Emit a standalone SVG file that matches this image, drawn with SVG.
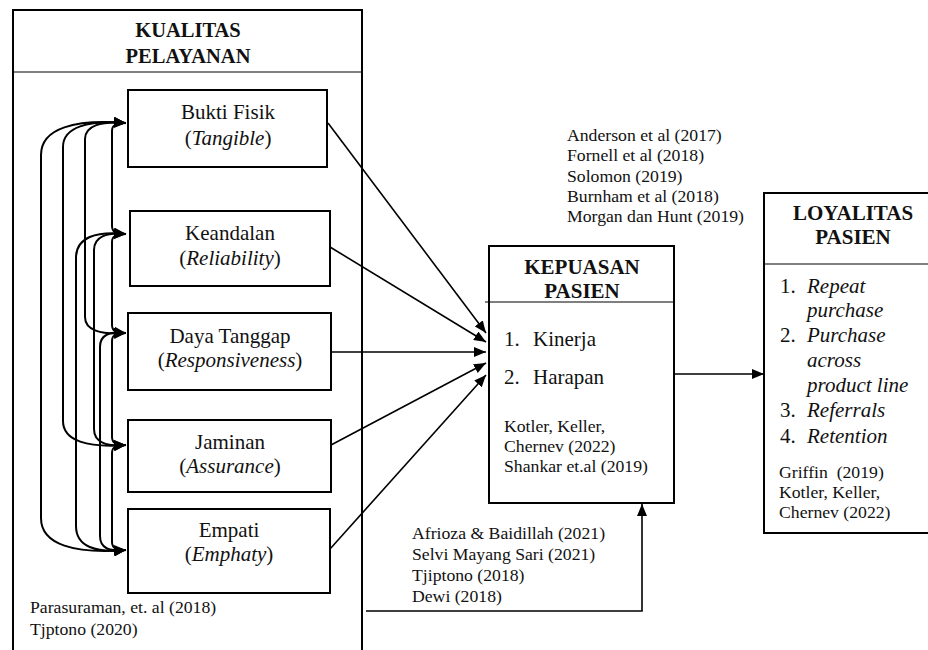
<svg xmlns="http://www.w3.org/2000/svg" width="928" height="650" viewBox="0 0 928 650">
<style>
.box{fill:#fff;stroke:#000;stroke-width:2}
.frame{fill:none;stroke:#000;stroke-width:2}
.div{stroke:#000;stroke-width:1.2}
.t{font-family:"Liberation Serif","Times New Roman",serif;fill:#111}
.lbl{font-size:21px;text-anchor:middle}
.hd{font-size:20.5px;font-weight:bold;text-anchor:middle}
.cit{font-size:17.7px}
.li{font-size:21px}
.it{font-style:italic}
.con{fill:none;stroke:#000;stroke-width:1.6}
.bi{fill:none;stroke:#000;stroke-width:2}
</style>
<defs>
<marker id="ah" viewBox="0 0 12 10" refX="12" refY="5" markerWidth="12" markerHeight="10" markerUnits="userSpaceOnUse" orient="auto-start-reverse">
<path d="M0,0 L12,5 L0,10 z" fill="#000"/>
</marker>
</defs>
<rect width="928" height="650" fill="#fff"/>

<g id="kualitas">
<rect class="frame" x="13" y="10" width="349" height="670"/>
<line class="div" x1="13" y1="72" x2="362" y2="72"/>
<text class="t hd" x="188" y="37">KUALITAS</text>
<text class="t hd" x="188" y="63">PELAYANAN</text>
<text class="t cit" x="30" y="613">Parasuraman, et. al (2018)</text>
<text class="t cit" x="30" y="635">Tjptono (2020)</text>
</g>

<g id="bukti">
<rect class="box" x="128" y="90" width="199" height="77"/>
<text class="t lbl" x="228" y="119">Bukti Fisik</text>
<text class="t lbl" x="228" y="145">(<tspan class="it">Tangible</tspan>)</text>
</g>
<g id="keandalan">
<rect class="box" x="130" y="211" width="200" height="75"/>
<text class="t lbl" x="230" y="240">Keandalan</text>
<text class="t lbl" x="230" y="265">(<tspan class="it">Reliability</tspan>)</text>
</g>
<g id="daya">
<rect class="box" x="128" y="313" width="203" height="77"/>
<text class="t lbl" x="230" y="343">Daya Tanggap</text>
<text class="t lbl" x="230" y="367">(<tspan class="it">Responsiveness</tspan>)</text>
</g>
<g id="jaminan">
<rect class="box" x="128" y="420" width="203" height="72"/>
<text class="t lbl" x="230" y="449">Jaminan</text>
<text class="t lbl" x="230" y="473">(<tspan class="it">Assurance</tspan>)</text>
</g>
<g id="empati">
<rect class="box" x="128" y="509" width="202" height="84"/>
<text class="t lbl" x="229" y="537">Empati</text>
<text class="t lbl" x="229" y="561">(<tspan class="it">Emphaty</tspan>)</text>
</g>

<g id="kepuasan">
<rect class="box" x="489" y="246" width="185" height="257"/>
<line class="div" x1="485" y1="302" x2="674" y2="302"/>
<text class="t hd" x="582" y="274" style="font-size:21px">KEPUASAN</text>
<text class="t hd" x="582" y="298" style="font-size:21px">PASIEN</text>
<text class="t li" x="504" y="346">1.<tspan x="533">Kinerja</tspan></text>
<text class="t li" x="504" y="384">2.<tspan x="533">Harapan</tspan></text>
<text class="t cit" x="504" y="432">Kotler, Keller,</text>
<text class="t cit" x="504" y="452">Chernev (2022)</text>
<text class="t cit" x="504" y="472">Shankar et.al (2019)</text>
</g>

<g id="loyalitas">
<rect class="box" x="764" y="193" width="180" height="340"/>
<line class="div" x1="764" y1="264" x2="944" y2="264"/>
<text class="t hd" x="853" y="220" style="font-size:21px">LOYALITAS</text>
<text class="t hd" x="853" y="244" style="font-size:21px">PASIEN</text>
<text class="t li" x="780" y="293">1.<tspan x="807" class="it">Repeat</tspan></text>
<text class="t li it" x="807" y="317">purchase</text>
<text class="t li" x="780" y="342">2.<tspan x="807" class="it">Purchase</tspan></text>
<text class="t li it" x="807" y="367">across</text>
<text class="t li it" x="807" y="392">product line</text>
<text class="t li" x="780" y="417">3.<tspan x="807" class="it">Referrals</tspan></text>
<text class="t li" x="780" y="443">4.<tspan x="807" class="it">Retention</tspan></text>
<text class="t cit" x="779" y="478" xml:space="preserve">Griffin  (2019)</text>
<text class="t cit" x="779" y="498">Kotler, Keller,</text>
<text class="t cit" x="779" y="518">Chernev (2022)</text>
</g>

<g id="cit-kepuasan">
<text class="t cit" x="567" y="141">Anderson et al (2017)</text>
<text class="t cit" x="567" y="161">Fornell et al (2018)</text>
<text class="t cit" x="567" y="182">Solomon (2019)</text>
<text class="t cit" x="567" y="202">Burnham et al (2018)</text>
<text class="t cit" x="567" y="222">Morgan dan Hunt (2019)</text>
</g>

<g id="cit-bottom">
<text class="t cit" x="412" y="539">Afrioza &amp; Baidillah (2021)</text>
<text class="t cit" x="412" y="560">Selvi Mayang Sari (2021)</text>
<text class="t cit" x="412" y="581">Tjiptono (2018)</text>
<text class="t cit" x="412" y="602">Dewi (2018)</text>
</g>

<g id="connectors">
<line class="con" x1="328" y1="123" x2="486" y2="333" marker-end="url(#ah)"/>
<line class="con" x1="330" y1="247" x2="486" y2="342" marker-end="url(#ah)"/>
<line class="con" x1="331" y1="352" x2="486" y2="352" marker-end="url(#ah)"/>
<line class="con" x1="331" y1="445" x2="486" y2="363" marker-end="url(#ah)"/>
<line class="con" x1="330" y1="549" x2="486" y2="375" marker-end="url(#ah)"/>
<line class="con" x1="675" y1="374" x2="764" y2="374" marker-end="url(#ah)"/>
<path class="con" d="M366,611 L642,611 L642,504" marker-end="url(#ah)"/>

<path class="bi" d="M126,123 C75,119 41,128 41,155 L41,518 C41,545 75,554 126,550" marker-start="url(#ah)" marker-end="url(#ah)"/>
<path class="bi" d="M126,123 C88,120 63,127 63,147 L63,421 C63,441 88,448 126,445" marker-start="url(#ah)" marker-end="url(#ah)"/>
<path class="bi" d="M126,123 C100,121 85,126 85,139 L85,317 C85,330 100,335 126,333" marker-start="url(#ah)" marker-end="url(#ah)"/>
<path class="bi" d="M126,123 C116,123 112,125 112,131 L112,226 C112,232 116,234 126,234" marker-start="url(#ah)" marker-end="url(#ah)"/>
<path class="bi" d="M126,234 C96,231 76,237 76,258 L76,526 C76,547 96,553 126,550" marker-start="url(#ah)" marker-end="url(#ah)"/>
<path class="bi" d="M126,234 C106,232 94,237 94,250 L94,429 C94,442 106,447 126,445" marker-start="url(#ah)" marker-end="url(#ah)"/>
<path class="bi" d="M126,234 C116,234 112,236 112,242 L112,325 C112,331 116,333 126,333" marker-start="url(#ah)" marker-end="url(#ah)"/>
<path class="bi" d="M126,333 C109,331 100,335 100,347 L100,536 C100,548 109,552 126,550" marker-start="url(#ah)" marker-end="url(#ah)"/>
<path class="bi" d="M126,333 C116,333 112,335 112,341 L112,437 C112,443 116,445 126,445" marker-start="url(#ah)" marker-end="url(#ah)"/>
<path class="bi" d="M126,445 C116,445 112,447 112,453 L112,542 C112,548 116,550 126,550" marker-start="url(#ah)" marker-end="url(#ah)"/>
</g>
</svg>
